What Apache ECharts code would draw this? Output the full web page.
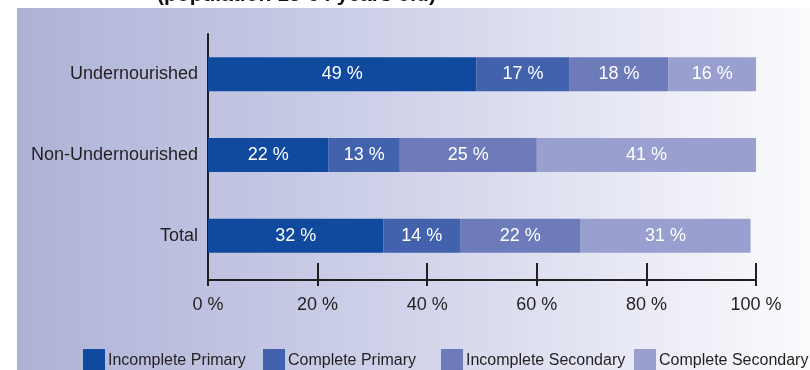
<!DOCTYPE html>
<html>
<head>
<meta charset="utf-8">
<script src="https://cdn.jsdelivr.net/npm/echarts@6/dist/echarts.min.js"></script>
<style>
  html, body { margin: 0; padding: 0; background: #ffffff; }
  #chart { width: 810px; height: 370px; }
</style>
</head>
<body>
<div id="chart"></div>
<script>
// Education level by nutrition status, share of each group (%)
const categories = ['Undernourished', 'Non-Undernourished', 'Total'];
const seriesNames = ['Incomplete Primary', 'Complete Primary', 'Incomplete Secondary', 'Complete Secondary'];
const incompletePrimary = [49, 22, 32];
const completePrimary = [17, 13, 14];
const incompleteSecondary = [18, 25, 22];
const completeSecondary = [16, 41, 31];
const xTicks = [0, 20, 40, 60, 80, 100];

const seriesValues = [incompletePrimary, completePrimary, incompleteSecondary, completeSecondary];
const colors = ['#104A9E', '#4262AE', '#6E7BBB', '#999FCF'];
const legendLeft = [83, 263, 441, 634];
const FONT = '"Liberation Sans", Arial, sans-serif';
const INK = '#231F20';

const chart = echarts.init(document.getElementById('chart'), null, { renderer: 'canvas' });

const option = {
  animation: false,
  textStyle: { fontFamily: FONT },
  graphic: [
    {
      type: 'rect',
      z: -10,
      silent: true,
      shape: { x: 17, y: 8, width: 793, height: 362 },
      style: {
        fill: new echarts.graphic.LinearGradient(0, 0, 1, 0, [
          { offset: 0, color: '#AEB2D7' },
          { offset: 0.45, color: '#CDD0E8' },
          { offset: 1, color: '#FBFBFD' }
        ])
      }
    },
    {
      type: 'text',
      left: 157,
      top: -15,
      z: 10,
      style: {
        text: '(population 15-64 years old)',
        font: 'bold 21px ' + FONT,
        fill: '#111111'
      }
    }
  ],
  legend: seriesNames.map((name, i) => ({
    data: [name],
    left: legendLeft[i],
    top: 349,
    padding: 0,
    itemWidth: 22,
    itemHeight: 24,
    icon: 'rect',
    selectedMode: false,
    textStyle: { fontSize: 16, color: INK, fontFamily: FONT, padding: [5, 0, 0, -2] }
  })),
  grid: { left: 208, right: 54, top: 34, bottom: 94 },
  xAxis: [
    {
      type: 'value',
      min: xTicks[0],
      max: xTicks[xTicks.length - 1],
      interval: xTicks[1] - xTicks[0],
      offset: 4,
      splitLine: { show: false },
      axisLine: { show: true, lineStyle: { color: INK, width: 2 } },
      axisTick: { show: true, inside: true, length: 17, lineStyle: { color: INK, width: 2 } },
      axisLabel: { formatter: '{value} %', fontSize: 18, color: INK, margin: 16, fontFamily: FONT }
    },
    {
      type: 'value',
      min: xTicks[0],
      max: xTicks[xTicks.length - 1],
      interval: xTicks[1] - xTicks[0],
      position: 'bottom',
      offset: 4,
      splitLine: { show: false },
      axisLine: { show: false },
      axisTick: { show: true, inside: false, length: 6, lineStyle: { color: INK, width: 2 } },
      axisLabel: { show: false }
    }
  ],
  yAxis: {
    type: 'category',
    data: categories,
    inverse: true,
    axisLine: { show: true, lineStyle: { color: INK, width: 2 } },
    axisTick: { show: false },
    axisLabel: { fontSize: 18, color: INK, margin: 10, fontFamily: FONT }
  },
  series: seriesNames.map((name, i) => ({
    name: name,
    type: 'bar',
    stack: 'share',
    xAxisIndex: 0,
    barWidth: 34,
    itemStyle: { color: colors[i] },
    label: {
      show: true,
      position: 'inside',
      formatter: '{c} %',
      color: '#ffffff',
      fontSize: 18,
      fontFamily: FONT
    },
    data: seriesValues[i].slice()
  }))
};

chart.setOption(option);
</script>
</body>
</html>
